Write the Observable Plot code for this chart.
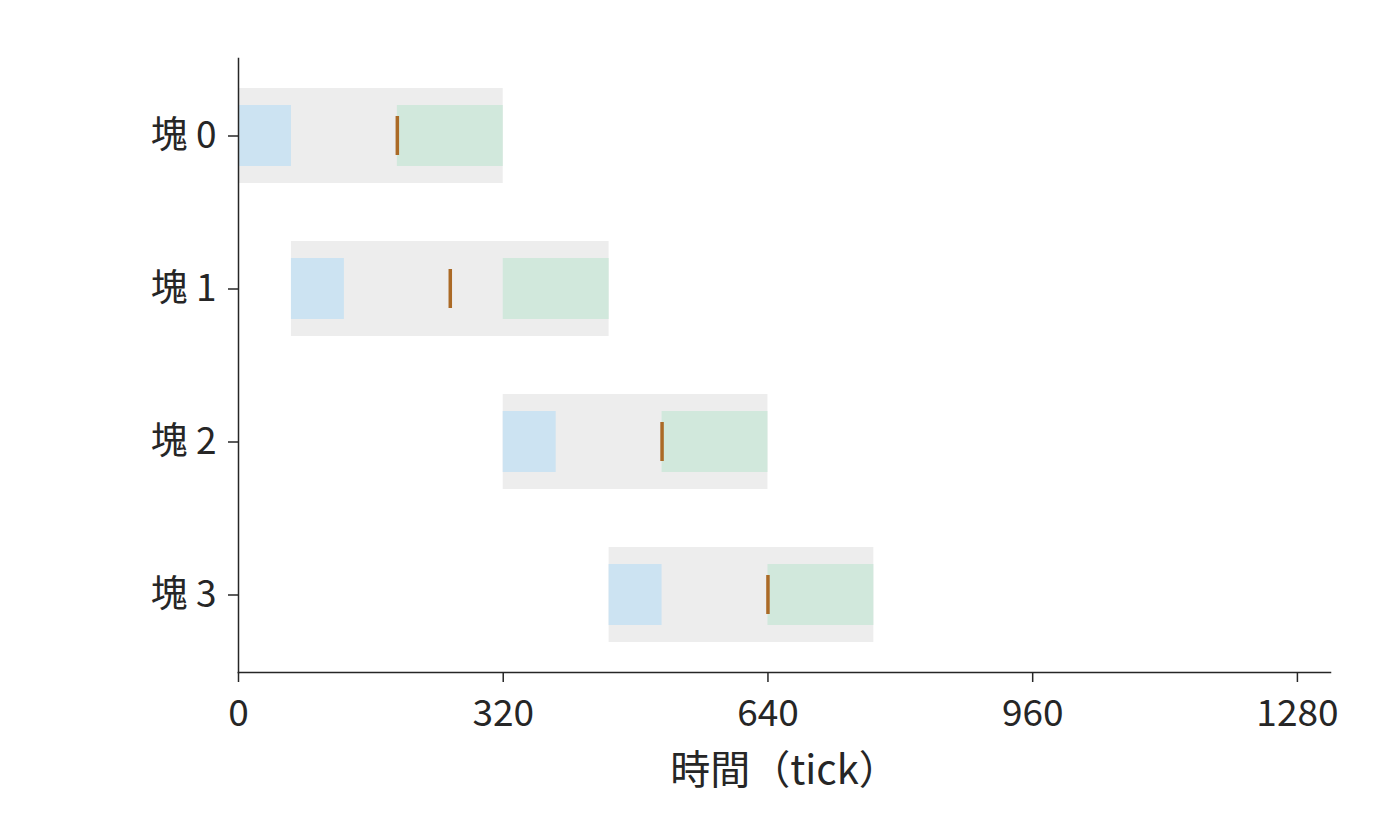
<!DOCTYPE html>
<html>
<head>
<meta charset="utf-8">
<script src="https://cdn.jsdelivr.net/npm/d3@7"></script>
<script src="https://cdn.jsdelivr.net/npm/@observablehq/plot@0.6"></script>
<style>
  html, body { margin: 0; padding: 0; background: #fff; }
  #chart svg { display: block; }
</style>
</head>
<body>
<div id="chart"></div>
<script>
const blocks = ["塊 0", "塊 1", "塊 2", "塊 3"];
const spanStart = [0, 64, 320, 448];
const spanEnd = [320, 448, 640, 768];
const loadEnd = [64, 128, 384, 512];
const computeStart = [192, 320, 512, 640];
const markTime = [192, 256, 512, 640];
const xTicks = [0, 320, 640, 960, 1280];

const rows = blocks.map((b, i) => ({
  block: b,
  start: spanStart[i],
  end: spanEnd[i],
  loadEnd: loadEnd[i],
  computeStart: computeStart[i],
  mark: markTime[i]
}));

const font = "'Noto Sans CJK JP', 'Noto Sans', sans-serif";
const ink = "#262626";
const fs = 37;

const chart = Plot.plot({
  width: 1400,
  height: 840,
  marginLeft: 238,
  marginRight: 70,
  marginTop: 58,
  marginBottom: 168,
  style: { fontFamily: font, fontSize: fs + "px", color: ink, background: "#fff" },
  x: { domain: [0, 1320], ticks: xTicks, tickFormat: d => String(d), label: null },
  y: { domain: blocks, padding: 0, label: null },
  marks: [
    Plot.barX(rows, { y: "block", x1: "start", x2: "end", fill: "#ededed", insetTop: 29, insetBottom: 29 }),
    Plot.barX(rows, { y: "block", x1: "start", x2: "loadEnd", fill: "#cce3f2", insetTop: 46, insetBottom: 46 }),
    Plot.barX(rows, { y: "block", x1: "computeStart", x2: "end", fill: "#d1e8dc", insetTop: 46, insetBottom: 46 }),
    Plot.tickX(rows, { y: "block", x: "mark", stroke: "#ab6a26", strokeWidth: 3.5, insetTop: 57, insetBottom: 57 }),
    Plot.frame({ anchor: "left", stroke: ink, strokeWidth: 1.5 }),
    Plot.frame({ anchor: "bottom", stroke: ink, strokeWidth: 1.5 }),
    Plot.axisX({ ticks: xTicks, tickFormat: d => String(d), tickSize: 10, tickPadding: 17, stroke: ink, strokeWidth: 1.5, fill: ink, fontSize: fs, label: null }),
    Plot.axisY({ tickSize: 10, tickPadding: 12, stroke: ink, strokeWidth: 1.5, fill: ink, fontSize: fs, label: null }),
    Plot.text(["時間（tick）"], { frameAnchor: "bottom", dy: 111, fill: ink, fontSize: 40, lineAnchor: "bottom" })
  ]
});
document.getElementById("chart").appendChild(chart);
</script>
</body>
</html>
